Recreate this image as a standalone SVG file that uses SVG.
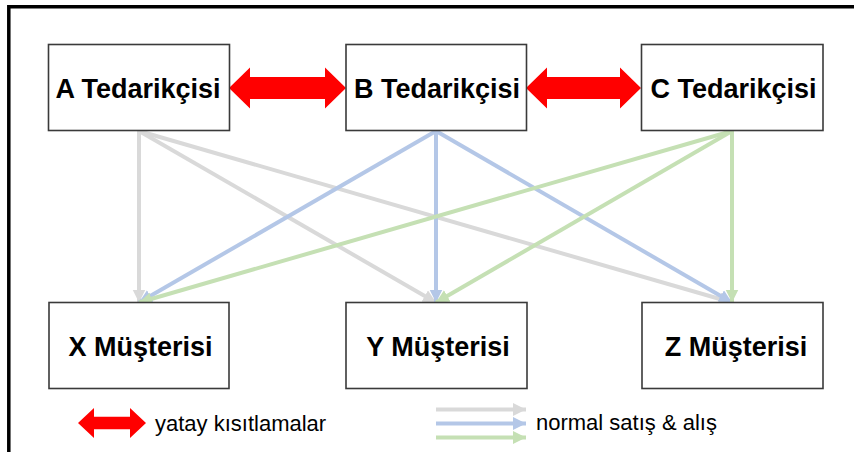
<svg xmlns="http://www.w3.org/2000/svg" width="854" height="452" viewBox="0 0 854 452">
<style>
.box{fill:#fff;stroke:#3a3a3a;stroke-width:1.6}
.lbl{font-family:"Liberation Sans",Arial,sans-serif;font-weight:bold;font-size:27px;fill:#000;text-anchor:middle}
.leg{font-family:"Liberation Sans",Arial,sans-serif;font-size:22px;fill:#000}
.red{fill:#ff0000}
.g{stroke:#d9d9d9;stroke-width:4;fill:none;marker-end:url(#mg)}
.b{stroke:#b4c7e7;stroke-width:4;fill:none;marker-end:url(#mb)}
.gr{stroke:#c5e0b4;stroke-width:4;fill:none;marker-end:url(#mgr)}
</style>
<defs>
<marker id="mg" markerUnits="userSpaceOnUse" markerWidth="14" markerHeight="14" refX="13" refY="6.5" orient="auto"><path d="M0,0 L13,6.5 L0,13 z" fill="#d9d9d9"/></marker>
<marker id="mb" markerUnits="userSpaceOnUse" markerWidth="14" markerHeight="14" refX="13" refY="6.5" orient="auto"><path d="M0,0 L13,6.5 L0,13 z" fill="#b4c7e7"/></marker>
<marker id="mgr" markerUnits="userSpaceOnUse" markerWidth="14" markerHeight="14" refX="13" refY="6.5" orient="auto"><path d="M0,0 L13,6.5 L0,13 z" fill="#c5e0b4"/></marker>
</defs>
<rect width="854" height="452" fill="#fff"/>
<path d="M8.8,452 V6.7 H854" fill="none" stroke="#000" stroke-width="3.5"/>
<g id="connectors">
<line class="g" x1="139" y1="131" x2="139" y2="302.5"/>
<line class="g" x1="139" y1="131" x2="436" y2="302.5"/>
<line class="g" x1="139" y1="131" x2="732" y2="302.5"/>
<line class="b" x1="436" y1="131" x2="139" y2="302.5"/>
<line class="b" x1="436" y1="131" x2="436" y2="302.5"/>
<line class="b" x1="436" y1="131" x2="732" y2="302.5"/>
<line class="gr" x1="732" y1="131" x2="139" y2="302.5"/>
<line class="gr" x1="732" y1="131" x2="436" y2="302.5"/>
<line class="gr" x1="732" y1="131" x2="732" y2="302.5"/>
<polygon class="red" points="229,88 250,67.5 250,77 325,77 325,67.5 346,88 325,108.5 325,99 250,99 250,108.5"/>
<polygon class="red" points="526,88 547,67.5 547,77 620,77 620,67.5 641,88 620,108.5 620,99 547,99 547,108.5"/>
</g>
<g id="A"><rect class="box" x="48.5" y="44.5" width="181" height="86"/><text class="lbl" x="138" y="97.5">A Tedarikçisi</text></g>
<g id="B"><rect class="box" x="346" y="44.5" width="180.5" height="86"/><text class="lbl" x="437" y="97.5">B Tedarikçisi</text></g>
<g id="C"><rect class="box" x="641.5" y="44.5" width="181.5" height="86"/><text class="lbl" x="733.5" y="97.5">C Tedarikçisi</text></g>
<g id="X"><rect class="box" x="49" y="302.5" width="180" height="86"/><text class="lbl" x="140.5" y="355.5">X Müşterisi</text></g>
<g id="Y"><rect class="box" x="346" y="302.5" width="181" height="86"/><text class="lbl" x="438" y="355.5">Y Müşterisi</text></g>
<g id="Z"><rect class="box" x="642" y="302.5" width="181" height="86"/><text class="lbl" x="736" y="355.5">Z Müşterisi</text></g>
<g id="legend">
<polygon class="red" points="78,423 94,408 94,416.7 130,416.7 130,408 146,423 130,438 130,429.3 94,429.3 94,438"/>
<text class="leg" x="155" y="431">yatay kısıtlamalar</text>
<line class="g" x1="436" y1="409.5" x2="526" y2="409.5"/>
<line class="b" x1="436" y1="423.5" x2="526" y2="423.5"/>
<line class="gr" x1="436" y1="437.5" x2="526" y2="437.5"/>
<text class="leg" x="536" y="430">normal satış &amp; alış</text>
</g>
</svg>
